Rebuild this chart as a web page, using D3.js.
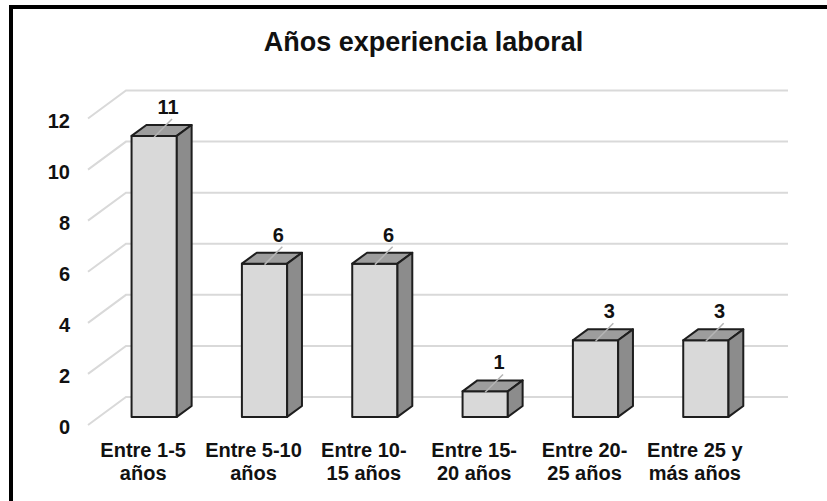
<!DOCTYPE html>
<html lang="es">
<head>
<meta charset="utf-8">
<title>Años experiencia laboral</title>
<script src="https://d3js.org/d3.v7.min.js"></script>
<style>
  body { margin: 0; background: #fff; }
  svg { display: block; font-family: "Liberation Sans", Arial, sans-serif; }
  .grid { fill: none; stroke: #d9d9d9; stroke-width: 2; }
  .face { stroke: #1e1e1e; stroke-width: 2; stroke-linejoin: round; }
  .lbl { font-weight: bold; fill: #111; }
</style>
</head>
<body>
<svg width="827" height="501"></svg>
<script>
// data
var categories = [["Entre 1-5", "años"], ["Entre 5-10", "años"], ["Entre 10-", "15 años"],
                  ["Entre 15-", "20 años"], ["Entre 20-", "25 años"], ["Entre 25 y", "más años"]];
var values = [11, 6, 6, 1, 3, 3];
var yTicks = [0, 2, 4, 6, 8, 10, 12];
var title = "Años experiencia laboral";

var svg = d3.select("svg");

// frame (only top and left edges visible)
svg.append("rect")
    .attr("x", 11).attr("y", 7)
    .attr("width", 840).attr("height", 520)
    .attr("fill", "none").attr("stroke", "#000").attr("stroke-width", 4);

// 3d depth vector for the full floor
var DX = 38, DY = 28;
var f0 = 0.29, f1 = 0.68; // bar front/back depth

var x = d3.scaleBand()
    .domain(d3.range(categories.length))
    .range([88, 750]);

var y = d3.scaleLinear()
    .domain([0, 12])
    .range([425, 118.5]);

var bw = x.bandwidth() * 0.41;

// gridlines: side wall diagonal + back wall
svg.append("g").selectAll("polyline")
  .data(yTicks)
  .enter().append("polyline")
    .attr("class", "grid")
    .attr("points", function(t) {
      var yf = y(t);
      return [[x.range()[0], yf], [x.range()[0] + DX, yf - DY], [x.range()[1] + DX, yf - DY]].join(" ");
    });

// tick labels
svg.append("g").selectAll("text")
  .data(yTicks)
  .enter().append("text")
    .attr("class", "lbl")
    .attr("x", 70)
    .attr("y", function(t) { return y(t) + 9; })
    .attr("text-anchor", "end")
    .style("font-size", "20px")
    .text(function(t) { return t; });

// bars
var bars = svg.append("g").selectAll("g")
  .data(values)
  .enter().append("g");

function pt(i, v, f, side) {
  var cx = x(i) + x.bandwidth() / 2 + DX * f;
  return [cx + side * bw / 2, y(v) - DY * f];
}

bars.append("polygon") // front
    .attr("class", "face").attr("fill", "#d9d9d9")
    .attr("points", function(v, i) {
      return [pt(i, 0, f0, -1), pt(i, v, f0, -1), pt(i, v, f0, 1), pt(i, 0, f0, 1)].join(" ");
    });
bars.append("polygon") // top
    .attr("class", "face").attr("fill", "#9d9d9d")
    .attr("points", function(v, i) {
      return [pt(i, v, f0, -1), pt(i, v, f1, -1), pt(i, v, f1, 1), pt(i, v, f0, 1)].join(" ");
    });
bars.append("polygon") // side
    .attr("class", "face").attr("fill", "#8c8c8c")
    .attr("points", function(v, i) {
      return [pt(i, 0, f0, 1), pt(i, v, f0, 1), pt(i, v, f1, 1), pt(i, 0, f1, 1)].join(" ");
    });

// leader lines
bars.append("line")
    .attr("stroke", "#b5b5b5").attr("stroke-width", 1.5)
    .attr("x1", function(v, i) { return pt(i, v, f1, 0)[0] + 3; })
    .attr("y1", function(v, i) { return pt(i, v, f1, 0)[1] - 6; })
    .attr("x2", function(v, i) { return pt(i, v, f0, 0)[0]; })
    .attr("y2", function(v, i) { return pt(i, v, f0, 0)[1] + 1; });

// value labels
bars.append("text")
    .attr("class", "lbl")
    .attr("x", function(v, i) { return pt(i, v, f1, 0)[0] - 1; })
    .attr("y", function(v, i) { return pt(i, v, f1, 0)[1] - 11; })
    .attr("text-anchor", "middle")
    .style("font-size", "20px")
    .text(function(v) { return v; });

// category labels
var cat = svg.append("g").selectAll("text")
  .data(categories)
  .enter().append("text")
    .attr("class", "lbl")
    .attr("text-anchor", "middle")
    .style("font-size", "20px")
    .attr("transform", function(d, i) { return "translate(" + (x(i) + x.bandwidth() / 2) + ",457)"; });
cat.selectAll("tspan")
  .data(function(d) { return d; })
  .enter().append("tspan")
    .attr("x", 0)
    .attr("dy", function(d, j) { return j ? 23 : 0; })
    .text(function(d) { return d; });

// title
svg.append("text")
    .attr("class", "lbl")
    .attr("x", 423.5).attr("y", 51)
    .attr("text-anchor", "middle")
    .style("font-size", "27px")
    .text(title);
</script>
</body>
</html>
